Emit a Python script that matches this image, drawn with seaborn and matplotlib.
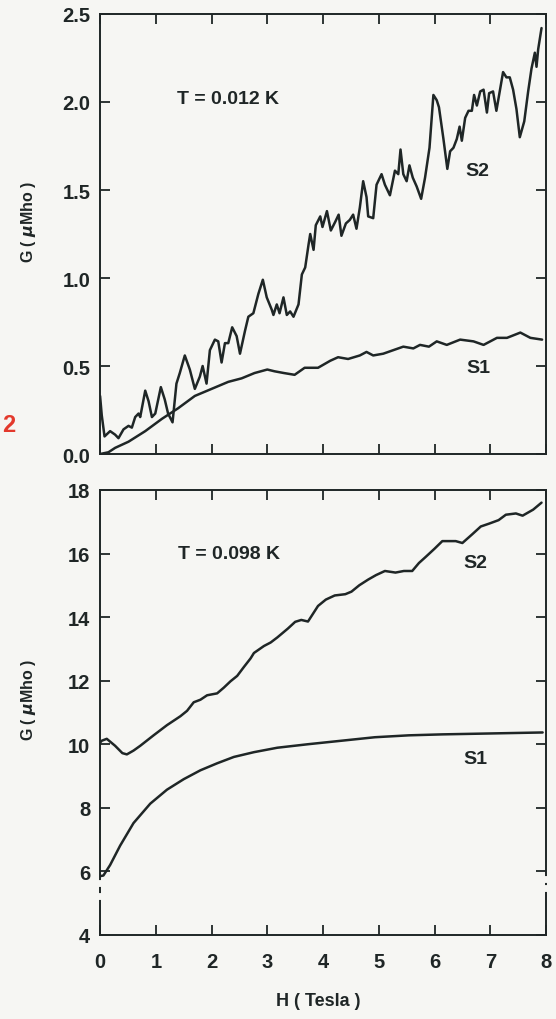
import pandas as pd
import matplotlib
matplotlib.use('Agg')
import matplotlib.pyplot as plt
import seaborn as sns

# ---- data ----
# top panel, T = 0.012 K
top_s2_h = [0.00, 0.03, 0.08, 0.18, 0.27, 0.33, 0.42, 0.51, 0.57, 0.63, 0.69, 0.72, 0.81, 0.87,
            0.93, 0.99, 1.09, 1.16, 1.22, 1.30, 1.37, 1.43, 1.52, 1.61, 1.70, 1.79, 1.84, 1.91,
            1.97, 2.06, 2.12, 2.18, 2.24, 2.30, 2.37, 2.45, 2.51, 2.60, 2.66, 2.75, 2.84, 2.92,
            2.99, 3.08, 3.11, 3.17, 3.22, 3.29, 3.35, 3.41, 3.47, 3.56, 3.62, 3.68, 3.74, 3.77,
            3.83, 3.87, 3.95, 3.99, 4.07, 4.14, 4.22, 4.28, 4.33, 4.41, 4.48, 4.54, 4.60, 4.66,
            4.72, 4.78, 4.81, 4.90, 4.96, 5.05, 5.11, 5.20, 5.29, 5.35, 5.39, 5.44, 5.50, 5.55,
            5.61, 5.68, 5.76, 5.83, 5.91, 5.98, 6.04, 6.08, 6.16, 6.23, 6.28, 6.34, 6.40, 6.45,
            6.49, 6.55, 6.61, 6.67, 6.71, 6.76, 6.82, 6.88, 6.94, 6.98, 7.05, 7.11, 7.17, 7.23,
            7.29, 7.35, 7.41, 7.47, 7.53, 7.61, 7.68, 7.74, 7.80, 7.83, 7.86, 7.92]
top_s2_g = [0.33, 0.22, 0.10, 0.13, 0.11, 0.09, 0.14, 0.16, 0.15, 0.21, 0.23, 0.21, 0.36, 0.30,
            0.21, 0.23, 0.38, 0.31, 0.23, 0.18, 0.40, 0.46, 0.56, 0.48, 0.37, 0.44, 0.50, 0.40,
            0.59, 0.65, 0.64, 0.52, 0.63, 0.63, 0.72, 0.67, 0.57, 0.70, 0.78, 0.80, 0.91, 0.99,
            0.89, 0.82, 0.79, 0.85, 0.80, 0.89, 0.79, 0.81, 0.78, 0.85, 1.02, 1.06, 1.19, 1.25,
            1.16, 1.30, 1.35, 1.29, 1.38, 1.27, 1.32, 1.36, 1.24, 1.31, 1.33, 1.36, 1.28, 1.40,
            1.55, 1.46, 1.35, 1.34, 1.53, 1.59, 1.53, 1.47, 1.61, 1.59, 1.73, 1.59, 1.55, 1.64,
            1.57, 1.52, 1.45, 1.57, 1.74, 2.04, 2.01, 1.97, 1.79, 1.62, 1.72, 1.74, 1.79, 1.86,
            1.78, 1.91, 1.95, 1.95, 2.04, 1.98, 2.06, 2.07, 1.94, 2.05, 2.06, 1.95, 2.06, 2.17,
            2.14, 2.14, 2.07, 1.96, 1.80, 1.89, 2.06, 2.19, 2.28, 2.20, 2.30, 2.42]

top_s1_h = [0.00, 0.15, 0.27, 0.51, 0.81, 1.11, 1.40, 1.70, 2.00, 2.30, 2.54, 2.77, 3.00, 3.13,
            3.30, 3.49, 3.67, 3.91, 4.13, 4.27, 4.45, 4.66, 4.78, 4.90, 5.08, 5.26, 5.44, 5.62,
            5.74, 5.90, 6.04, 6.22, 6.46, 6.70, 6.88, 7.12, 7.30, 7.54, 7.72, 7.93]
top_s1_g = [0.00, 0.01, 0.035, 0.07, 0.13, 0.20, 0.26, 0.33, 0.37, 0.41, 0.43, 0.46, 0.48, 0.47,
            0.46, 0.45, 0.49, 0.49, 0.53, 0.55, 0.54, 0.56, 0.58, 0.56, 0.57, 0.59, 0.61, 0.60,
            0.62, 0.61, 0.64, 0.62, 0.65, 0.64, 0.62, 0.66, 0.66, 0.69, 0.66, 0.65]

# bottom panel, T = 0.098 K
bot_s2_h = [0.00, 0.03, 0.12, 0.27, 0.40, 0.48, 0.60, 0.72, 0.96, 1.20, 1.44, 1.56, 1.68, 1.80,
            1.92, 2.10, 2.22, 2.34, 2.46, 2.58, 2.70, 2.76, 2.94, 3.06, 3.18, 3.37, 3.50, 3.61,
            3.73, 3.91, 4.05, 4.21, 4.40, 4.51, 4.65, 4.81, 4.95, 5.11, 5.30, 5.45, 5.60, 5.72,
            5.84, 6.00, 6.14, 6.38, 6.50, 6.68, 6.83, 6.98, 7.15, 7.28, 7.46, 7.58, 7.77, 7.92]
bot_s2_g = [10.05, 10.11, 10.17, 9.95, 9.72, 9.68, 9.80, 9.95, 10.28, 10.60, 10.88, 11.05, 11.32,
            11.40, 11.54, 11.60, 11.78, 11.98, 12.15, 12.43, 12.70, 12.87, 13.09, 13.20, 13.36,
            13.64, 13.85, 13.91, 13.86, 14.35, 14.55, 14.68, 14.72, 14.80, 15.00, 15.18, 15.32,
            15.45, 15.40, 15.45, 15.45, 15.70, 15.89, 16.15, 16.39, 16.39, 16.33, 16.61, 16.85,
            16.94, 17.05, 17.22, 17.26, 17.19, 17.38, 17.60]

bot_s1_h = [0.00, 0.06, 0.18, 0.36, 0.60, 0.90, 1.20, 1.50, 1.80, 2.10, 2.40, 2.76, 3.18, 3.73,
            4.33, 4.93, 5.54, 6.14, 6.74, 7.34, 7.94]
bot_s1_g = [5.85, 5.87, 6.20, 6.81, 7.52, 8.13, 8.57, 8.90, 9.18, 9.40, 9.60, 9.75, 9.89, 10.00,
            10.11, 10.22, 10.28, 10.31, 10.33, 10.35, 10.37]

x_ticks = [0, 1, 2, 3, 4, 5, 6, 7, 8]
top_y_ticks = [0.0, 0.5, 1.0, 1.5, 2.0, 2.5]
top_y_labels = ['0.0', '0.5', '1.0', '1.5', '2.0', '2.5']
bot_y_ticks = [4, 6, 8, 10, 12, 14, 16, 18]

# axis break gaps on the lower panel's vertical spines
break_left = [5.62, 5.22]
break_right = [5.75, 5.45]

bg = '#f6f6f3'
ink = '#1f2626'

sns.set_style('ticks')
plt.rcParams['font.family'] = ['Liberation Sans', 'DejaVu Sans']
plt.rcParams['font.weight'] = 'bold'
plt.rcParams['text.color'] = ink
plt.rcParams['axes.labelcolor'] = ink
plt.rcParams['axes.labelweight'] = 'bold'
plt.rcParams['xtick.color'] = ink
plt.rcParams['ytick.color'] = ink
plt.rcParams['axes.edgecolor'] = ink

fig = plt.figure(figsize=(5.56, 10.2), dpi=100)
fig.patch.set_facecolor(bg)
ax1 = fig.add_axes([0.18, 0.5539, 0.802, 0.4314])
ax2 = fig.add_axes([0.18, 0.0824, 0.802, 0.4363])

panels = [
    (ax1, top_s2_h, top_s2_g, top_s1_h, top_s1_g),
    (ax2, bot_s2_h, bot_s2_g, bot_s1_h, bot_s1_g),
]
for ax, h2, g2, h1, g1 in panels:
    ax.set_facecolor(bg)
    s2 = pd.DataFrame({'H': h2, 'G': g2})
    s1 = pd.DataFrame({'H': h1, 'G': g1})
    sns.lineplot(data=s2, x='H', y='G', ax=ax, color=ink, lw=1.8, estimator=None, sort=False)
    sns.lineplot(data=s1, x='H', y='G', ax=ax, color=ink, lw=1.8, estimator=None, sort=False)
    ax.set_xlim(0, 8)
    ax.set_xticks(x_ticks)
    ax.tick_params(direction='in', length=7, width=1.3, top=True, right=True,
                   labelsize=14.5)
    ax.tick_params(axis='y', pad=7)
    ax.tick_params(axis='x', pad=12)
    for sp in ax.spines.values():
        sp.set_linewidth(1.4)
    ax.set_ylabel('G ( $\\mu$Mho )', fontsize=11.5)
    ax.yaxis.set_label_coords(-0.14, 0.53)

# top panel
ax1.set_ylim(0, 2.5)
ax1.set_yticks(top_y_ticks)
ax1.set_yticklabels(top_y_labels)
ax1.set_xticklabels([])
ax1.set_xlabel('')
ax1.text(1.38, 2.02, 'T = 0.012 K', fontsize=14, va='center', ha='left')
ax1.text(6.76, 1.61, 'S2', fontsize=14, va='center', ha='center')
ax1.text(6.78, 0.49, 'S1', fontsize=14, va='center', ha='center')

# bottom panel
ax2.set_ylim(4, 18)
ax2.set_yticks(bot_y_ticks)
ax2.set_xlabel('H ( Tesla )', fontsize=13)
ax2.xaxis.set_label_coords(0.49, -0.128)
ax2.text(1.40, 16.0, 'T = 0.098 K', fontsize=14, va='center', ha='left')
ax2.text(6.74, 15.72, 'S2', fontsize=14, va='center', ha='center')
ax2.text(6.74, 9.56, 'S1', fontsize=14, va='center', ha='center')
for y in break_left:
    ax2.plot([0, 0], [y - 0.05, y + 0.05], color=bg, lw=3, clip_on=False, zorder=4)
for y in break_right:
    ax2.plot([8, 8], [y - 0.05, y + 0.05], color=bg, lw=3, clip_on=False, zorder=4)

# figure number in the margin
fig.text(0.004, 0.5833, '2', color='#e3392c', fontsize=17, fontweight='bold', va='center')

fig.savefig('out.png', dpi=100, facecolor=bg)
